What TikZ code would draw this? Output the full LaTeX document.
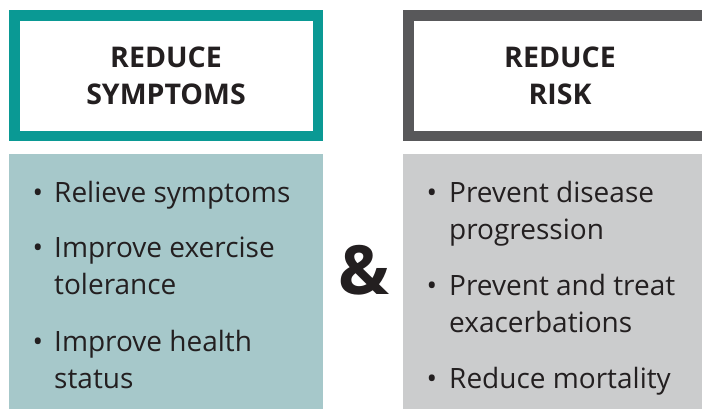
\documentclass[tikz,border=0pt]{standalone}
\usepackage{fontspec}
\setmainfont{Open Sans}
\usepackage{xcolor}
\usetikzlibrary{positioning}

\definecolor{symteal}{HTML}{0A9994}
\definecolor{symfill}{HTML}{A6C8CA}
\definecolor{riskgray}{HTML}{58585A}
\definecolor{riskfill}{HTML}{CBCCCD}
\definecolor{inkdark}{HTML}{231F20}

\begin{document}
\begin{tikzpicture}[x=1pt, y=-1pt,
    every node/.style={text=inkdark},
    headbox/.style={draw, rectangle, line width=10.5pt, fill=white, minimum width=303.5pt, minimum height=120.5pt, align=center, font=\fontsize{28.5}{37}\selectfont\bfseries},
    bodybox/.style={rectangle, anchor=north west, inner sep=0pt, minimum width=314pt, minimum height=270pt},
    item/.style={anchor=base west, align=left, inner sep=0pt, font=\fontsize{28}{37}\selectfont},
    dot/.style={anchor=base, inner sep=0pt, font=\fontsize{28}{37}\selectfont}]
    \useasboundingbox (0,0) rectangle (702,408);
    \clip (0,0) rectangle (702,408);

    % headers
    \node[headbox, draw=symteal] (symhead) at (166,75.5) {REDUCE\\SYMPTOMS};
    \node[headbox, draw=riskgray] (riskhead) at (560,75.5) {REDUCE\\RISK};

    % bodies
    \node[bodybox, fill=symfill] (symbody) at (9,154) {};
    \node[bodybox, fill=riskfill] (riskbody) at (403,154) {};

    % symptoms list (two-line items sit on their last baseline)
    \node[dot] (d1) at (38,202) {\textbullet};
    \node[item] (relieve) at (54,202) {Relieve symptoms};
    \node[dot] (d2) at (38,257) {\textbullet};
    \node[item] (exercise) at (54,294) {Improve exercise\\tolerance};
    \node[dot] (d3) at (38,351) {\textbullet};
    \node[item] (health) at (54,388) {Improve health\\status};

    % risk list
    \node[dot] (d4) at (432,202) {\textbullet};
    \node[item] (progress) at (449,239) {Prevent disease\\progression};
    \node[dot] (d5) at (432,295) {\textbullet};
    \node[item] (exacerb) at (449,332) {Prevent and treat\\exacerbations};
    \node[dot] (d6) at (432,388) {\textbullet};
    \node[item] (mortality) at (449,388) {Reduce mortality};

    \node[font=\fontsize{68}{68}\selectfont\bfseries] (amp) at (364,270) {\&};
\end{tikzpicture}
\end{document}
